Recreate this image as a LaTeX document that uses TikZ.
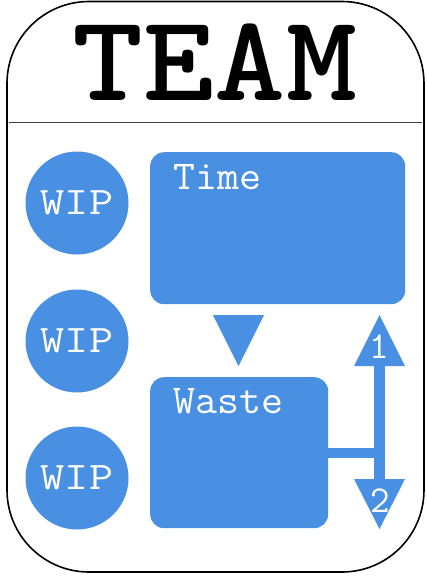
\documentclass[tikz,border=0pt]{standalone}
\usepackage{fontspec}
\newfontfamily\teamfont{lmmonolt10-bold.otf}
\setmonofont{Latin Modern Mono}
\definecolor{cardblue}{RGB}{74,144,226}
\begin{document}
\begin{tikzpicture}[x=1pt,y=-1pt,
  bluebox/.style={fill=cardblue, rounded corners=14pt, draw=none, inner sep=0pt, anchor=north west},
  wip/.style={circle, fill=cardblue, minimum size=103pt, inner sep=0pt},
  wiptext/.style={inner sep=0pt, text=white, xscale=1.2, font=\ttfamily\fontsize{39}{39}\selectfont},
  boxlabel/.style={anchor=base west, inner sep=0pt, text=white, xscale=1.04, font=\ttfamily\fontsize{41}{41}\selectfont},
  numlabel/.style={anchor=base, inner sep=0pt, text=white, font=\ttfamily\fontsize{38}{38}\selectfont}]
\useasboundingbox (0,0) rectangle (427,582);
% card
\draw[line width=1.6pt, rounded corners=82pt] (7,1.5) rectangle (424,572);
\draw[line width=0.6pt, black!75] (9,122) -- (422,122);
\node[anchor=base, inner sep=0pt, font=\teamfont\fontsize{123}{123}\selectfont, xscale=1.1] (team) at (215,100) {TEAM};
% WIP circles
\node[wip] (w1) at (77,203) {};
\node[wip] (w2) at (77,341) {};
\node[wip] (w3) at (77,478) {};
\node[wiptext] (w1t) at (w1) {WIP};
\node[wiptext] (w2t) at (w2) {WIP};
\node[wiptext] (w3t) at (w3) {WIP};
% boxes
\node[bluebox, minimum width=255pt, minimum height=152pt] (time) at (150,152) {};
\node[boxlabel] (timel) at (173,189) {Time};
\node[bluebox, minimum width=178pt, minimum height=151pt] (waste) at (150,377) {};
\node[boxlabel] (wastel) at (173,413) {Waste};
% down triangle
\fill[cardblue] (213,315) -- (264,315) -- (238.5,366) -- cycle;
% double arrow
\coordinate (top) at (379.5,315);
\coordinate (bot) at (379.5,529);
\fill[cardblue] (374,365) rectangle (385,480);
\fill[cardblue] (354,366) -- (405,366) -- (top) -- cycle;
\fill[cardblue] (354,479) -- (405,479) -- (bot) -- cycle;
\fill[cardblue] (waste.east |- 0,448) rectangle (375,458);
\node[numlabel] (n1) at (379.5,358) {1};
\node[numlabel] (n2) at (380.5,512) {2};
\end{tikzpicture}
\end{document}
